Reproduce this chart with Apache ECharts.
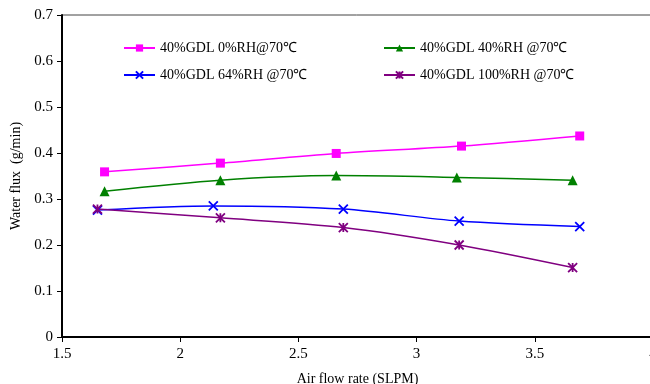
<!DOCTYPE html>
<html>
<head>
<meta charset="UTF-8">
<script src="https://cdn.jsdelivr.net/npm/echarts@6/dist/echarts.min.js"></script>
<style>
  body { margin: 0; background: #fff; }
  #chart { width: 650px; height: 384px; }
</style>
</head>
<body>
<div id="chart"></div>
<script>
// series names
const names = [
  '40%GDL 0%RH@70\u2103',
  '40%GDL 40%RH @70\u2103',
  '40%GDL 64%RH @70\u2103',
  '40%GDL 100%RH @70\u2103'
];

// air flow rate (SLPM) and water flux (g/min)
const xRH0 = [1.68, 2.17, 2.66, 3.19, 3.69];
const yRH0 = [0.359, 0.378, 0.399, 0.415, 0.437];

const xRH40 = [1.68, 2.17, 2.66, 3.17, 3.66];
const yRH40 = [0.317, 0.341, 0.351, 0.347, 0.341];

const xRH64 = [1.65, 2.14, 2.69, 3.18, 3.69];
const yRH64 = [0.276, 0.285, 0.278, 0.252, 0.240];

const xRH100 = [1.65, 2.17, 2.69, 3.18, 3.66];
const yRH100 = [0.278, 0.259, 0.238, 0.200, 0.151];

const colors = ['#ff00ff', '#008000', '#0000ff', '#800080'];

const crossPath = 'path://M0,0L10,10M10,0L0,10';
const starPath = 'path://M0,0L10,10M10,0L0,10M5,0L5,10';

function pairs(xs, ys) {
  return xs.map((x, i) => [x, ys[i]]);
}

const chart = echarts.init(document.getElementById('chart'));

const serif = '"Liberation Serif", "Times New Roman", serif';

function legendAt(name, left, top) {
  return {
    data: [name],
    left: left,
    top: top,
    itemWidth: 31,
    itemHeight: 9,
    itemGap: 4,
    textStyle: { fontFamily: serif, fontSize: 14, color: '#000' },
    selectedMode: false
  };
}

chart.setOption({
  animation: false,
  textStyle: { fontFamily: serif },
  legend: [
    legendAt(names[0], 118, 36),
    legendAt(names[1], 378, 36),
    legendAt(names[2], 118, 63),
    legendAt(names[3], 378, 63)
  ],
  grid: {
    left: 62, top: 15, width: 591, height: 322,
    outerBoundsMode: 'none',
    show: true, borderColor: '#444', borderWidth: 1
  },
  xAxis: {
    type: 'value',
    min: 1.5, max: 4, interval: 0.5,
    name: 'Air flow rate (SLPM)',
    nameLocation: 'middle',
    nameGap: 35,
    nameTextStyle: { fontFamily: serif, fontSize: 14, color: '#000' },
    axisLine: { lineStyle: { color: '#000', width: 2 } },
    axisTick: { length: 5, lineStyle: { color: '#000' } },
    axisLabel: { margin: 10, fontFamily: serif, fontSize: 15, color: '#000' },
    splitLine: { show: false }
  },
  yAxis: {
    type: 'value',
    min: 0, max: 0.7, interval: 0.1,
    name: 'Water flux  (g/min)',
    nameLocation: 'middle',
    nameGap: 32,
    nameTextStyle: { fontFamily: serif, fontSize: 14, color: '#000' },
    axisLine: { show: true, lineStyle: { color: '#000', width: 2 } },
    axisTick: { show: true, length: 5, lineStyle: { color: '#000' } },
    axisLabel: { margin: 9, fontFamily: serif, fontSize: 15, color: '#000' },
    splitLine: { show: false }
  },
  series: [
    {
      name: names[0], type: 'line', smooth: 0.3,
      data: pairs(xRH0, yRH0),
      symbol: 'rect', symbolSize: 9,
      lineStyle: { color: colors[0], width: 1.5 },
      itemStyle: { color: colors[0] }
    },
    {
      name: names[1], type: 'line', smooth: 0.3,
      data: pairs(xRH40, yRH40),
      symbol: 'triangle', symbolSize: 10,
      lineStyle: { color: colors[1], width: 1.5 },
      itemStyle: { color: colors[1] }
    },
    {
      name: names[2], type: 'line', smooth: 0.3,
      data: pairs(xRH64, yRH64),
      symbol: crossPath, symbolSize: 9,
      lineStyle: { color: colors[2], width: 1.5 },
      itemStyle: { color: colors[2], borderColor: colors[2], borderWidth: 1.8 }
    },
    {
      name: names[3], type: 'line', smooth: 0.3,
      data: pairs(xRH100, yRH100),
      symbol: starPath, symbolSize: 9,
      lineStyle: { color: colors[3], width: 1.5 },
      itemStyle: { color: colors[3], borderColor: colors[3], borderWidth: 1.8 }
    }
  ]
});
</script>
</body>
</html>
